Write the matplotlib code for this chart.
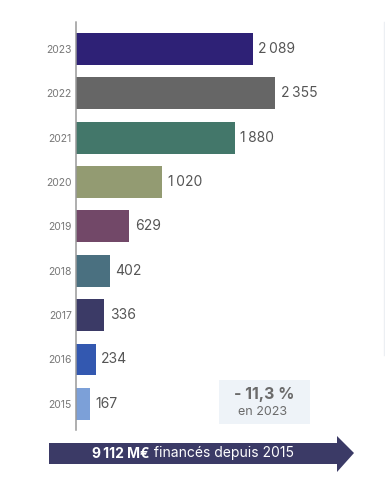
import matplotlib.pyplot as plt
from matplotlib.patches import Polygon, Rectangle
from matplotlib.lines import Line2D
from matplotlib.text import Annotation

plt.rcParams['font.family'] = ['Inter', 'DejaVu Sans']

# Données : financements par année (M€)
annees = ['2015', '2016', '2017', '2018', '2019', '2020', '2021', '2022', '2023']
valeurs = [167, 234, 336, 402, 629, 1020, 1880, 2355, 2089]
couleurs = ['#7ca0d8', '#3358b0', '#3b3a66', '#4a7080', '#724868',
            '#939b72', '#43776a', '#666666', '#2e2176']
variation = '- 11,3 %'
variation_annee = 'en 2023'

W, H = 385, 491
fig = plt.figure(figsize=(W / 100, H / 100), dpi=100)

# Axe : ligne gauche à x=76 px, de y=22 à y=430 px
ax = fig.add_axes([76 / W, (H - 430) / H, 300 / W, 408 / H])
pos = list(range(len(annees)))
ax.barh(pos, valeurs, height=0.72, color=couleurs)
ax.set_xlim(0, 300 / 0.0845)
ax.set_ylim(-0.59, 8.61)

ax.set_yticks(pos)
ax.set_yticklabels(annees, fontsize=7.5, color='#777777')
ax.tick_params(axis='y', length=0, pad=3)
ax.set_xticks([])
for s in ['top', 'right', 'bottom']:
    ax.spines[s].set_visible(False)
ax.spines['left'].set_linestyle((0, (1, 1)))
ax.spines['left'].set_color('#999999')
ax.spines['left'].set_linewidth(1.1)

# Valeurs au bout des barres
for p, v in zip(pos, valeurs):
    txt = f'{v:,}'.replace(',', '\u2009')
    ax.annotate(txt, xy=(v, p), xytext=(4, 0), textcoords='offset points',
                va='center', ha='left', fontsize=10, color='#555555')


def fx(px):
    return px / W


def fy(py):
    return 1 - py / H


# Ligne claire à droite
fig.add_artist(Line2D([fx(384), fx(384)], [fy(22), fy(355)],
                      color='#eceff3', lw=1))

# Encadré variation
fig.add_artist(Rectangle((fx(219), fy(424)), fx(310) - fx(219), fy(380) - fy(424),
                         facecolor='#eef3f8', edgecolor='none'))
fig.text(fx(264), fy(395), variation, ha='center', va='center',
         fontsize=11.5, fontweight='bold', color='#6b6b6b')
fig.text(fx(263), fy(412), variation_annee, ha='center', va='center',
         fontsize=9, color='#6b6b6b')

# Flèche total
pts = [(49, 443), (337, 443), (337, 436), (354, 453), (337, 472),
       (337, 464), (49, 464)]
fig.add_artist(Polygon([(fx(x), fy(y)) for x, y in pts],
                       closed=True, facecolor='#3b3a66', edgecolor='none'))
total = sum(valeurs)
total_txt = f'{total:,}'.replace(',', '\u2009') + ' M€'
t1 = fig.text(fx(92), fy(453.5), total_txt, ha='left', va='center',
              fontsize=10, fontweight='bold', color='white')
fig.add_artist(Annotation(' financés depuis 2015', xy=(1, 0.5), xycoords=t1,
                          va='center', ha='left', fontsize=10, color='white'))

fig.savefig('out.png', dpi=100)
plt.close(fig)
